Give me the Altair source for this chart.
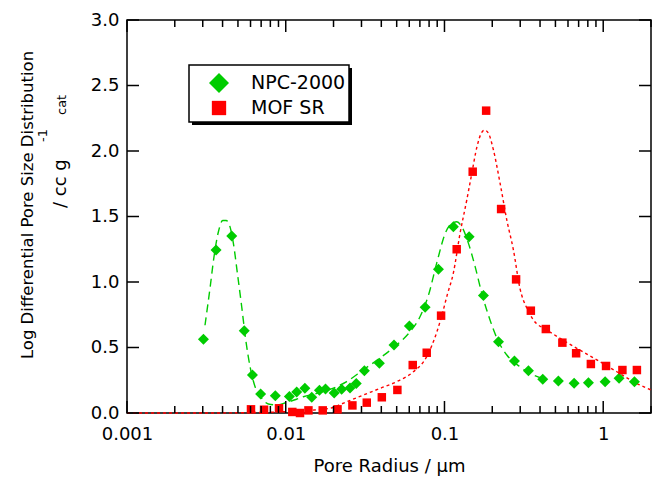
import altair as alt
import pandas as pd

# ---------------- data ----------------
npc_x = [0.00303, 0.00364, 0.00457, 0.00548, 0.00617, 0.00695, 0.00860, 0.01054,
         0.01172, 0.01320, 0.01458, 0.0163, 0.0178, 0.0202, 0.0225, 0.0254, 0.0278,
         0.0313, 0.0389, 0.0481, 0.0601, 0.0755, 0.0916, 0.1138, 0.143, 0.176,
         0.219, 0.276, 0.338, 0.416, 0.522, 0.656, 0.807, 1.028, 1.259, 1.573]
npc_y = [0.563, 1.244, 1.351, 0.628, 0.29, 0.145, 0.132, 0.126,
         0.16, 0.188, 0.12, 0.174, 0.184, 0.152, 0.181, 0.19, 0.225,
         0.323, 0.379, 0.519, 0.664, 0.807, 1.097, 1.422, 1.346, 0.896,
         0.544, 0.397, 0.323, 0.257, 0.244, 0.227, 0.231, 0.239, 0.265, 0.239]

mof_x = [0.00604, 0.0073, 0.00907, 0.0110, 0.0123, 0.0139, 0.0171, 0.0212, 0.0263,
         0.0324, 0.0403, 0.0505, 0.0631, 0.0773, 0.0952, 0.1194, 0.1506, 0.183,
         0.2274, 0.2826, 0.350, 0.435, 0.553, 0.675, 0.836, 1.042, 1.321, 1.63]
mof_y = [0.028, 0.025, 0.036, 0.008, 0.0, 0.02, 0.02, 0.028, 0.058,
         0.079, 0.12, 0.176, 0.366, 0.46, 0.743, 1.25, 1.842, 2.308,
         1.557, 1.02, 0.781, 0.641, 0.537, 0.456, 0.374, 0.359, 0.328, 0.328]

npc_fit_x = [0.0031, 0.00334, 0.00353, 0.00376, 0.00401, 0.00421, 0.00442, 0.00468,
             0.00496, 0.00528, 0.0056, 0.00596, 0.00641, 0.00706, 0.00777, 0.00877,
             0.0101, 0.0117, 0.0129, 0.0157, 0.019, 0.0242, 0.0308, 0.0393, 0.05,
             0.0607, 0.0701, 0.0793, 0.0896, 0.101, 0.1112, 0.1196, 0.1286, 0.1416,
             0.156, 0.1718, 0.1936, 0.219, 0.247, 0.299, 0.35, 0.42]
npc_fit_y = [0.67, 0.96, 1.19, 1.38, 1.47, 1.47, 1.435, 1.295,
             1.066, 0.811, 0.557, 0.353, 0.2, 0.112, 0.069, 0.061,
             0.08, 0.105, 0.124, 0.15, 0.18, 0.24, 0.33, 0.42, 0.52,
             0.62, 0.735, 0.90, 1.15, 1.37, 1.448, 1.46, 1.422, 1.295,
             1.117, 0.914, 0.71, 0.544, 0.443, 0.353, 0.3, 0.26]

mof_fit_x = [0.001, 0.003, 0.006, 0.01, 0.014, 0.019, 0.0242, 0.0308, 0.0393, 0.05,
             0.0637, 0.0773, 0.0896, 0.097, 0.104, 0.1138, 0.1253, 0.1382, 0.1487,
             0.16, 0.1704, 0.1787, 0.1893, 0.2034, 0.2241, 0.247, 0.2719, 0.299,
             0.3305, 0.3634, 0.4414, 0.535, 0.682, 0.912, 1.219, 1.55, 2.0]
mof_fit_y = [0.0, 0.0, 0.003, 0.01, 0.02, 0.036, 0.086, 0.137, 0.188, 0.239,
             0.315, 0.43, 0.62, 0.76, 0.9, 1.07, 1.37, 1.626, 1.83,
             2.03, 2.135, 2.16, 2.135, 2.008, 1.753, 1.473, 1.244, 0.95,
             0.799, 0.71, 0.634, 0.57, 0.494, 0.405, 0.315, 0.239, 0.176]

x_major = [0.001, 0.01, 0.1, 1]
x_minor = [m * 10.0 ** e for e in (-3, -2, -1) for m in range(2, 10)] + [2]
y_ticks = [0.0, 0.5, 1.0, 1.5, 2.0, 2.5, 3.0]
legend_labels = ["NPC-2000", "MOF SR"]
x_title = "Pore Radius / \u03bcm"
y_title_1 = "Log Differential Pore Size Distribution"
y_title_2 = "/ cc g"
y_title_sup = "-1"
y_title_sub = "cat"

# ---------------- styling ----------------
W, H = 524, 393
GREEN = "#00CC00"
RED = "#FF0000"
FONT = "DejaVu Sans"
MAJOR, MINOR, TW = 12, 7, 1.5

xscale = alt.Scale(type="log", domain=[0.001, 2], nice=False)
yscale = alt.Scale(domain=[0, 3], nice=False, zero=False)

ax_x = alt.Axis(orient="bottom", values=x_major, format="~g", ticks=False,
                domain=False, grid=False, labelFont=FONT, labelFontSize=18,
                labelColor="black", labelPadding=12, labelFlush=False,
                labelOverlap=False, title=x_title, titleFont=FONT,
                titleFontSize=18, titleFontWeight="normal", titleColor="black",
                titleY=53, titleBaseline="middle")
ax_y = alt.Axis(orient="left", values=y_ticks, format=".1f", ticks=False,
                domain=False, grid=False, labelFont=FONT, labelFontSize=18,
                labelColor="black", labelPadding=8, labelOverlap=False,
                title="")

npc_df = pd.DataFrame({"x": npc_x, "y": npc_y})
mof_df = pd.DataFrame({"x": mof_x, "y": mof_y})
npc_fit_df = pd.DataFrame({"x": npc_fit_x, "y": npc_fit_y})
mof_fit_df = pd.DataFrame({"x": mof_fit_x, "y": mof_fit_y})
xmaj_df = pd.DataFrame({"tx": x_major})
xmin_df = pd.DataFrame({"tx": x_minor})
ytk_df = pd.DataFrame({"ty": y_ticks})


def X(field="x"):
    return alt.X(f"{field}:Q", scale=xscale, axis=ax_x)


def Y(field="y"):
    return alt.Y(f"{field}:Q", scale=yscale, axis=ax_y)


green_line = alt.Chart(npc_fit_df).mark_line(
    color=GREEN, strokeDash=[8, 5], strokeWidth=1.4, interpolate="monotone"
).encode(x=X(), y=Y())
red_line = alt.Chart(mof_fit_df).mark_line(
    color=RED, strokeDash=[3, 3], strokeWidth=1.4, interpolate="monotone"
).encode(x=X(), y=Y())
green_pts = alt.Chart(npc_df).mark_point(
    shape="diamond", filled=True, size=121, color=GREEN, opacity=1
).encode(x=X(), y=Y())
red_pts = alt.Chart(mof_df).mark_square(size=72, color=RED, opacity=1).encode(
    x=X(), y=Y())

# inward ticks on all four sides, as tick marks placed through the scales
def vtick(df, length, at_top):
    return alt.Chart(df).mark_tick(
        orient="vertical", color="black", opacity=1, thickness=TW, size=length
    ).encode(x=X("tx"), y=alt.value(length / 2 if at_top else H - length / 2))


def htick(df, at_right):
    return alt.Chart(df).mark_tick(
        orient="horizontal", color="black", opacity=1, thickness=TW, size=MAJOR
    ).encode(y=Y("ty"), x=alt.value(W - MAJOR / 2 if at_right else MAJOR / 2))


tk_bot_major = vtick(xmaj_df, MAJOR, False)
tk_bot_minor = vtick(xmin_df, MINOR, False)
tk_top_major = vtick(xmaj_df, MAJOR, True)
tk_top_minor = vtick(xmin_df, MINOR, True)
tk_left = htick(ytk_df, False)
tk_right = htick(ytk_df, True)

one = pd.DataFrame({"k": [0]})
leg_shadow = alt.Chart(one).mark_rect(color="black").encode(
    x=alt.value(65), x2=alt.value(225), y=alt.value(48), y2=alt.value(105))
leg_box = alt.Chart(one).mark_rect(fill="white", stroke="black", strokeWidth=1.5).encode(
    x=alt.value(62), x2=alt.value(222), y=alt.value(45), y2=alt.value(102))
leg_d = alt.Chart(one).mark_point(shape="diamond", filled=True, size=400,
                                  color=GREEN, opacity=1).encode(
    x=alt.value(92), y=alt.value(63))
leg_s = alt.Chart(one).mark_square(size=205, color=RED, opacity=1).encode(
    x=alt.value(92), y=alt.value(88))
leg_t1 = alt.Chart(one).mark_text(text=legend_labels[0], align="left", baseline="middle",
                                  font=FONT, fontSize=19, color="black").encode(
    x=alt.value(124), y=alt.value(63))
leg_t2 = alt.Chart(one).mark_text(text=legend_labels[1], align="left", baseline="middle",
                                  font=FONT, fontSize=19, color="black").encode(
    x=alt.value(124), y=alt.value(88))

yt1 = alt.Chart(one).mark_text(text=y_title_1, angle=270, align="center",
                               baseline="alphabetic", font=FONT, fontSize=16.5,
                               color="black").encode(x=alt.value(-94), y=alt.value(185))
yt2 = alt.Chart(one).mark_text(text=y_title_2, angle=270, align="left",
                               baseline="alphabetic", font=FONT, fontSize=18,
                               color="black").encode(x=alt.value(-61), y=alt.value(188))
yt3 = alt.Chart(one).mark_text(text=y_title_sup, angle=270, align="left",
                               baseline="alphabetic", font=FONT, fontSize=13,
                               color="black").encode(x=alt.value(-80), y=alt.value(122))
yt4 = alt.Chart(one).mark_text(text=y_title_sub, angle=270, align="left",
                               baseline="alphabetic", font=FONT, fontSize=13,
                               color="black").encode(x=alt.value(-61), y=alt.value(95))

chart = alt.layer(
    green_line, red_line, green_pts, red_pts,
    leg_shadow, leg_box, leg_d, leg_s, leg_t1, leg_t2,
    yt1, yt2, yt3, yt4,
    tk_bot_major, tk_bot_minor, tk_top_major, tk_top_minor, tk_left, tk_right,
).properties(
    width=W, height=H,
    autosize=alt.AutoSizeParams(type="none"),
    padding={"left": 127, "top": 20, "right": 1, "bottom": 68},
    background="white",
).configure_view(
    stroke="black", strokeWidth=1.5
)

chart.save("out.html", embed_options={"renderer": "svg", "actions": False})
